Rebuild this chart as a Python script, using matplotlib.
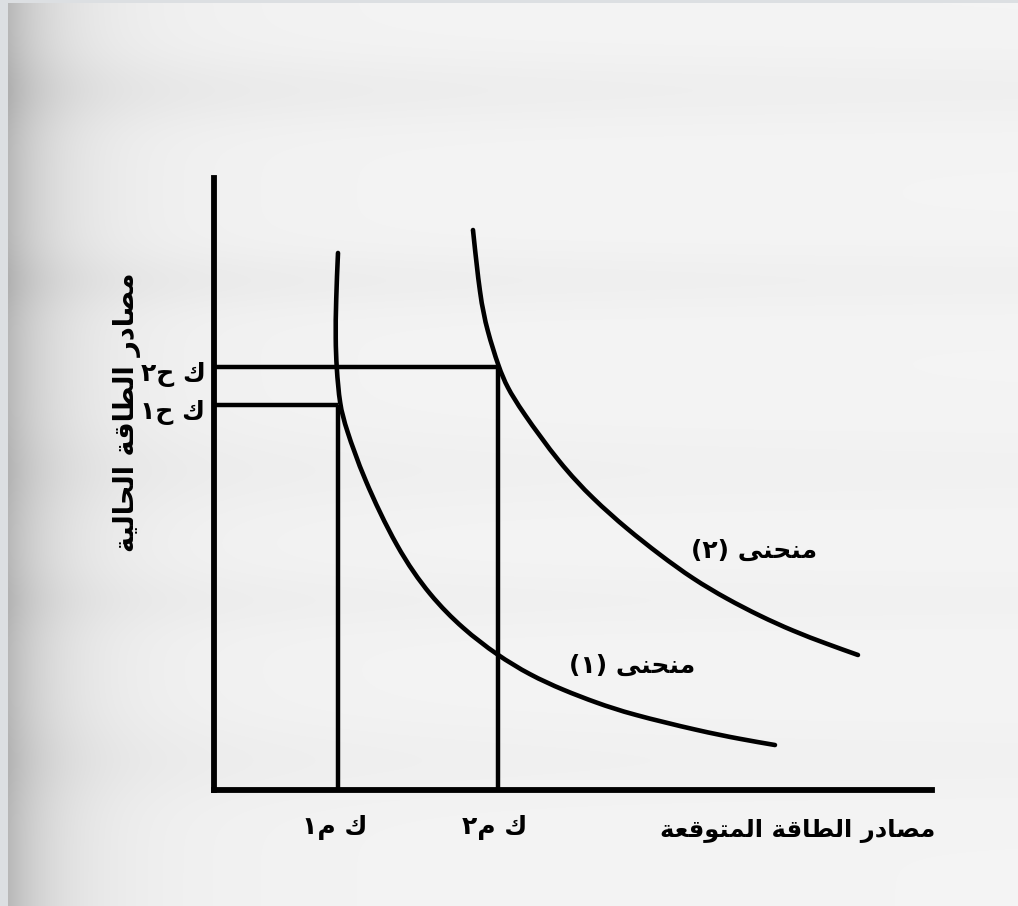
import numpy as np
import matplotlib
matplotlib.use("Agg")
import matplotlib.pyplot as plt
from matplotlib.path import Path
from matplotlib.patches import PathPatch

# ---------------- data (abstract units, axes 0..10) ----------------
km1 = 1.73   # ك م١
km2 = 3.96   # ك م٢
kh1 = 6.29   # ك ح١
kh2 = 6.91   # ك ح٢

curve1_x = [1.727, 1.699, 1.692, 1.706, 1.750, 1.838, 2.075, 2.549, 3.008, 3.468,
            3.942, 4.401, 4.861, 5.334, 5.794, 6.769, 7.326, 7.813]
curve1_y = [8.775, 8.007, 7.353, 6.912, 6.290, 5.915, 5.114, 3.938, 3.170, 2.631,
            2.206, 1.879, 1.634, 1.422, 1.242, 0.964, 0.833, 0.735]

curve2_x = [3.607, 3.705, 3.802, 3.969, 4.081, 4.276, 4.819, 5.279, 5.752, 6.212,
            6.671, 7.145, 7.604, 8.064, 8.538, 8.969]
curve2_y = [9.150, 8.056, 7.516, 6.895, 6.585, 6.209, 5.327, 4.755, 4.265, 3.840,
            3.448, 3.121, 2.843, 2.598, 2.386, 2.206]

x_label = "مصادر الطاقة المتوقعة"
y_label = "مصادر الطاقة الحالية"
x_ticks = [km1, km2]
x_tick_labels = ["ك م١", "ك م٢"]
y_ticks = [kh1, kh2]
y_tick_labels = ["ك ح١", "ك ح٢"]
curve_labels = ["منحنى (١)", "منحنى (٢)"]

# ---------------- minimal Arabic shaping (visual order) ----------------
FORMS = {
    'ا': ('\uFE8D', '\uFE8E', None, None),
    'ة': ('\uFE93', '\uFE94', None, None),
    'د': ('\uFEA9', '\uFEAA', None, None),
    'ر': ('\uFEAD', '\uFEAE', None, None),
    'و': ('\uFEED', '\uFEEE', None, None),
    'ى': ('\uFEEF', '\uFEF0', None, None),
    'ت': ('\uFE95', '\uFE96', '\uFE97', '\uFE98'),
    'ح': ('\uFEA1', '\uFEA2', '\uFEA3', '\uFEA4'),
    'خ': ('\uFEA5', '\uFEA6', '\uFEA7', '\uFEA8'),
    'ص': ('\uFEB9', '\uFEBA', '\uFEBB', '\uFEBC'),
    'ط': ('\uFEC1', '\uFEC2', '\uFEC3', '\uFEC4'),
    'ع': ('\uFEC9', '\uFECA', '\uFECB', '\uFECC'),
    'ق': ('\uFED5', '\uFED6', '\uFED7', '\uFED8'),
    'ك': ('\uFED9', '\uFEDA', '\uFEDB', '\uFEDC'),
    'ل': ('\uFEDD', '\uFEDE', '\uFEDF', '\uFEE0'),
    'م': ('\uFEE1', '\uFEE2', '\uFEE3', '\uFEE4'),
    'ن': ('\uFEE5', '\uFEE6', '\uFEE7', '\uFEE8'),
    'ي': ('\uFEF1', '\uFEF2', '\uFEF3', '\uFEF4'),
}


def dual(c):
    return c in FORMS and FORMS[c][2] is not None


def shape(text):
    out = []
    n = len(text)
    for i, c in enumerate(text):
        if c not in FORMS:
            out.append(c)
            continue
        jp = i > 0 and dual(text[i - 1])
        jn = dual(c) and i + 1 < n and text[i + 1] in FORMS
        iso, fin, ini, med = FORMS[c]
        if jp and jn:
            out.append(med)
        elif jp:
            out.append(fin)
        elif jn:
            out.append(ini)
        else:
            out.append(iso)
    vis = ''.join(reversed(out))
    return vis.translate(str.maketrans('()', ')('))


def smooth_path(xs, ys):
    """Uniform cubic B-spline on the read points (ends clamped), as Bezier segments."""
    P = np.column_stack([xs, ys]).astype(float)
    P = np.vstack([P[0], P[0], P, P[-1], P[-1]])
    verts, codes = [], []
    for i in range(1, len(P) - 2):
        a, b, c, d = P[i - 1], P[i], P[i + 1], P[i + 2]
        b0 = (a + 4 * b + c) / 6.0
        b1 = (2 * b + c) / 3.0
        b2 = (b + 2 * c) / 3.0
        b3 = (b + 4 * c + d) / 6.0
        if not verts:
            verts.append(b0)
            codes.append(Path.MOVETO)
        verts += [b1, b2, b3]
        codes += [Path.CURVE4] * 3
    return Path(verts, codes)


# ---------------- figure ----------------
W, H = 1018, 906
fig = plt.figure(figsize=(W / 100, H / 100), dpi=100)
fig.patch.set_facecolor('#dcdfe3')

# scanned paper background
bg = fig.add_axes([0, 0, 1, 1], zorder=-5)
xx = np.arange(W)[None, :].astype(float)
yy = np.arange(H)[:, None].astype(float)
val = 0.957 - 0.20 * np.exp(-(xx - 8) / 45.0) - 0.035 * np.exp(-(xx - 8) / 160.0)
bands = np.zeros_like(yy)
for yc, amp, wd in [(90, 0.035, 35), (280, 0.03, 30), (470, 0.02, 40), (600, 0.02, 30),
                    (760, 0.02, 40)]:
    bands = bands + amp * np.exp(-((yy - yc) / wd) ** 2)
val = val - bands * (0.4 + 0.6 * np.exp(-xx / 500.0))
img = np.dstack([val, val, val])
img[:, :8, :] = [0.863, 0.875, 0.89]
img[:3, :, :] = [0.863, 0.875, 0.89]
bg.imshow(np.clip(img, 0, 1), aspect='auto', extent=[0, W, H, 0])
bg.set_axis_off()


def fx(px):
    return px / W


def fy(py):
    return 1 - py / H


x0, x1, y0, y1 = 214, 932, 790, 178
ax = fig.add_axes([fx(x0), fy(y0), fx(x1) - fx(x0), fy(y1) - fy(y0)])
ax.set_facecolor('none')
ax.set_xlim(0, 10)
ax.set_ylim(0, 10)
for s in ['top', 'right']:
    ax.spines[s].set_visible(False)
for s in ['left', 'bottom']:
    ax.spines[s].set_linewidth(4.2)
    ax.spines[s].set_color('black')
ax.set_xticks([])
ax.set_yticks([])

lw = 3.2
kw = dict(color='black', lw=lw, solid_capstyle='butt', solid_joinstyle='round',
          clip_on=False)
# guide lines
ax.plot([km1, km1], [0, kh1], **kw)
ax.plot([km2, km2], [0, kh2], **kw)
ax.plot([0, km1], [kh1, kh1], **kw)
ax.plot([0, km2], [kh2, kh2], **kw)
# curves
for cx, cy in [(curve1_x, curve1_y), (curve2_x, curve2_y)]:
    ax.add_patch(PathPatch(smooth_path(cx, cy), facecolor='none', edgecolor='black',
                           lw=3.3, capstyle='round', joinstyle='round', clip_on=False))

fam = ['DejaVu Sans']
tkw = dict(family=fam, fontweight='bold', color='black')

# axis labels
fig.text(fx(798), fy(831), shape(x_label), fontsize=17.5, ha='center', va='center', **tkw)
fig.text(fx(127), fy(412), shape(y_label), fontsize=19.5, ha='center', va='center',
         rotation=90, **tkw)

# tick labels
for xv, lab in zip(x_ticks, x_tick_labels):
    ax.text(xv - 0.05, -0.62, shape(lab), fontsize=18, ha='center', va='center', **tkw)
for yv, lab in zip(y_ticks, y_tick_labels):
    ax.text(-0.12, yv - 0.12, shape(lab), fontsize=18, ha='right', va='center', **tkw)

# curve labels
fig.text(fx(632), fy(666), shape(curve_labels[0]), fontsize=18, ha='center', va='center', **tkw)
fig.text(fx(754), fy(551), shape(curve_labels[1]), fontsize=18, ha='center', va='center', **tkw)

fig.savefig('out.png', dpi=100, facecolor=fig.get_facecolor())
